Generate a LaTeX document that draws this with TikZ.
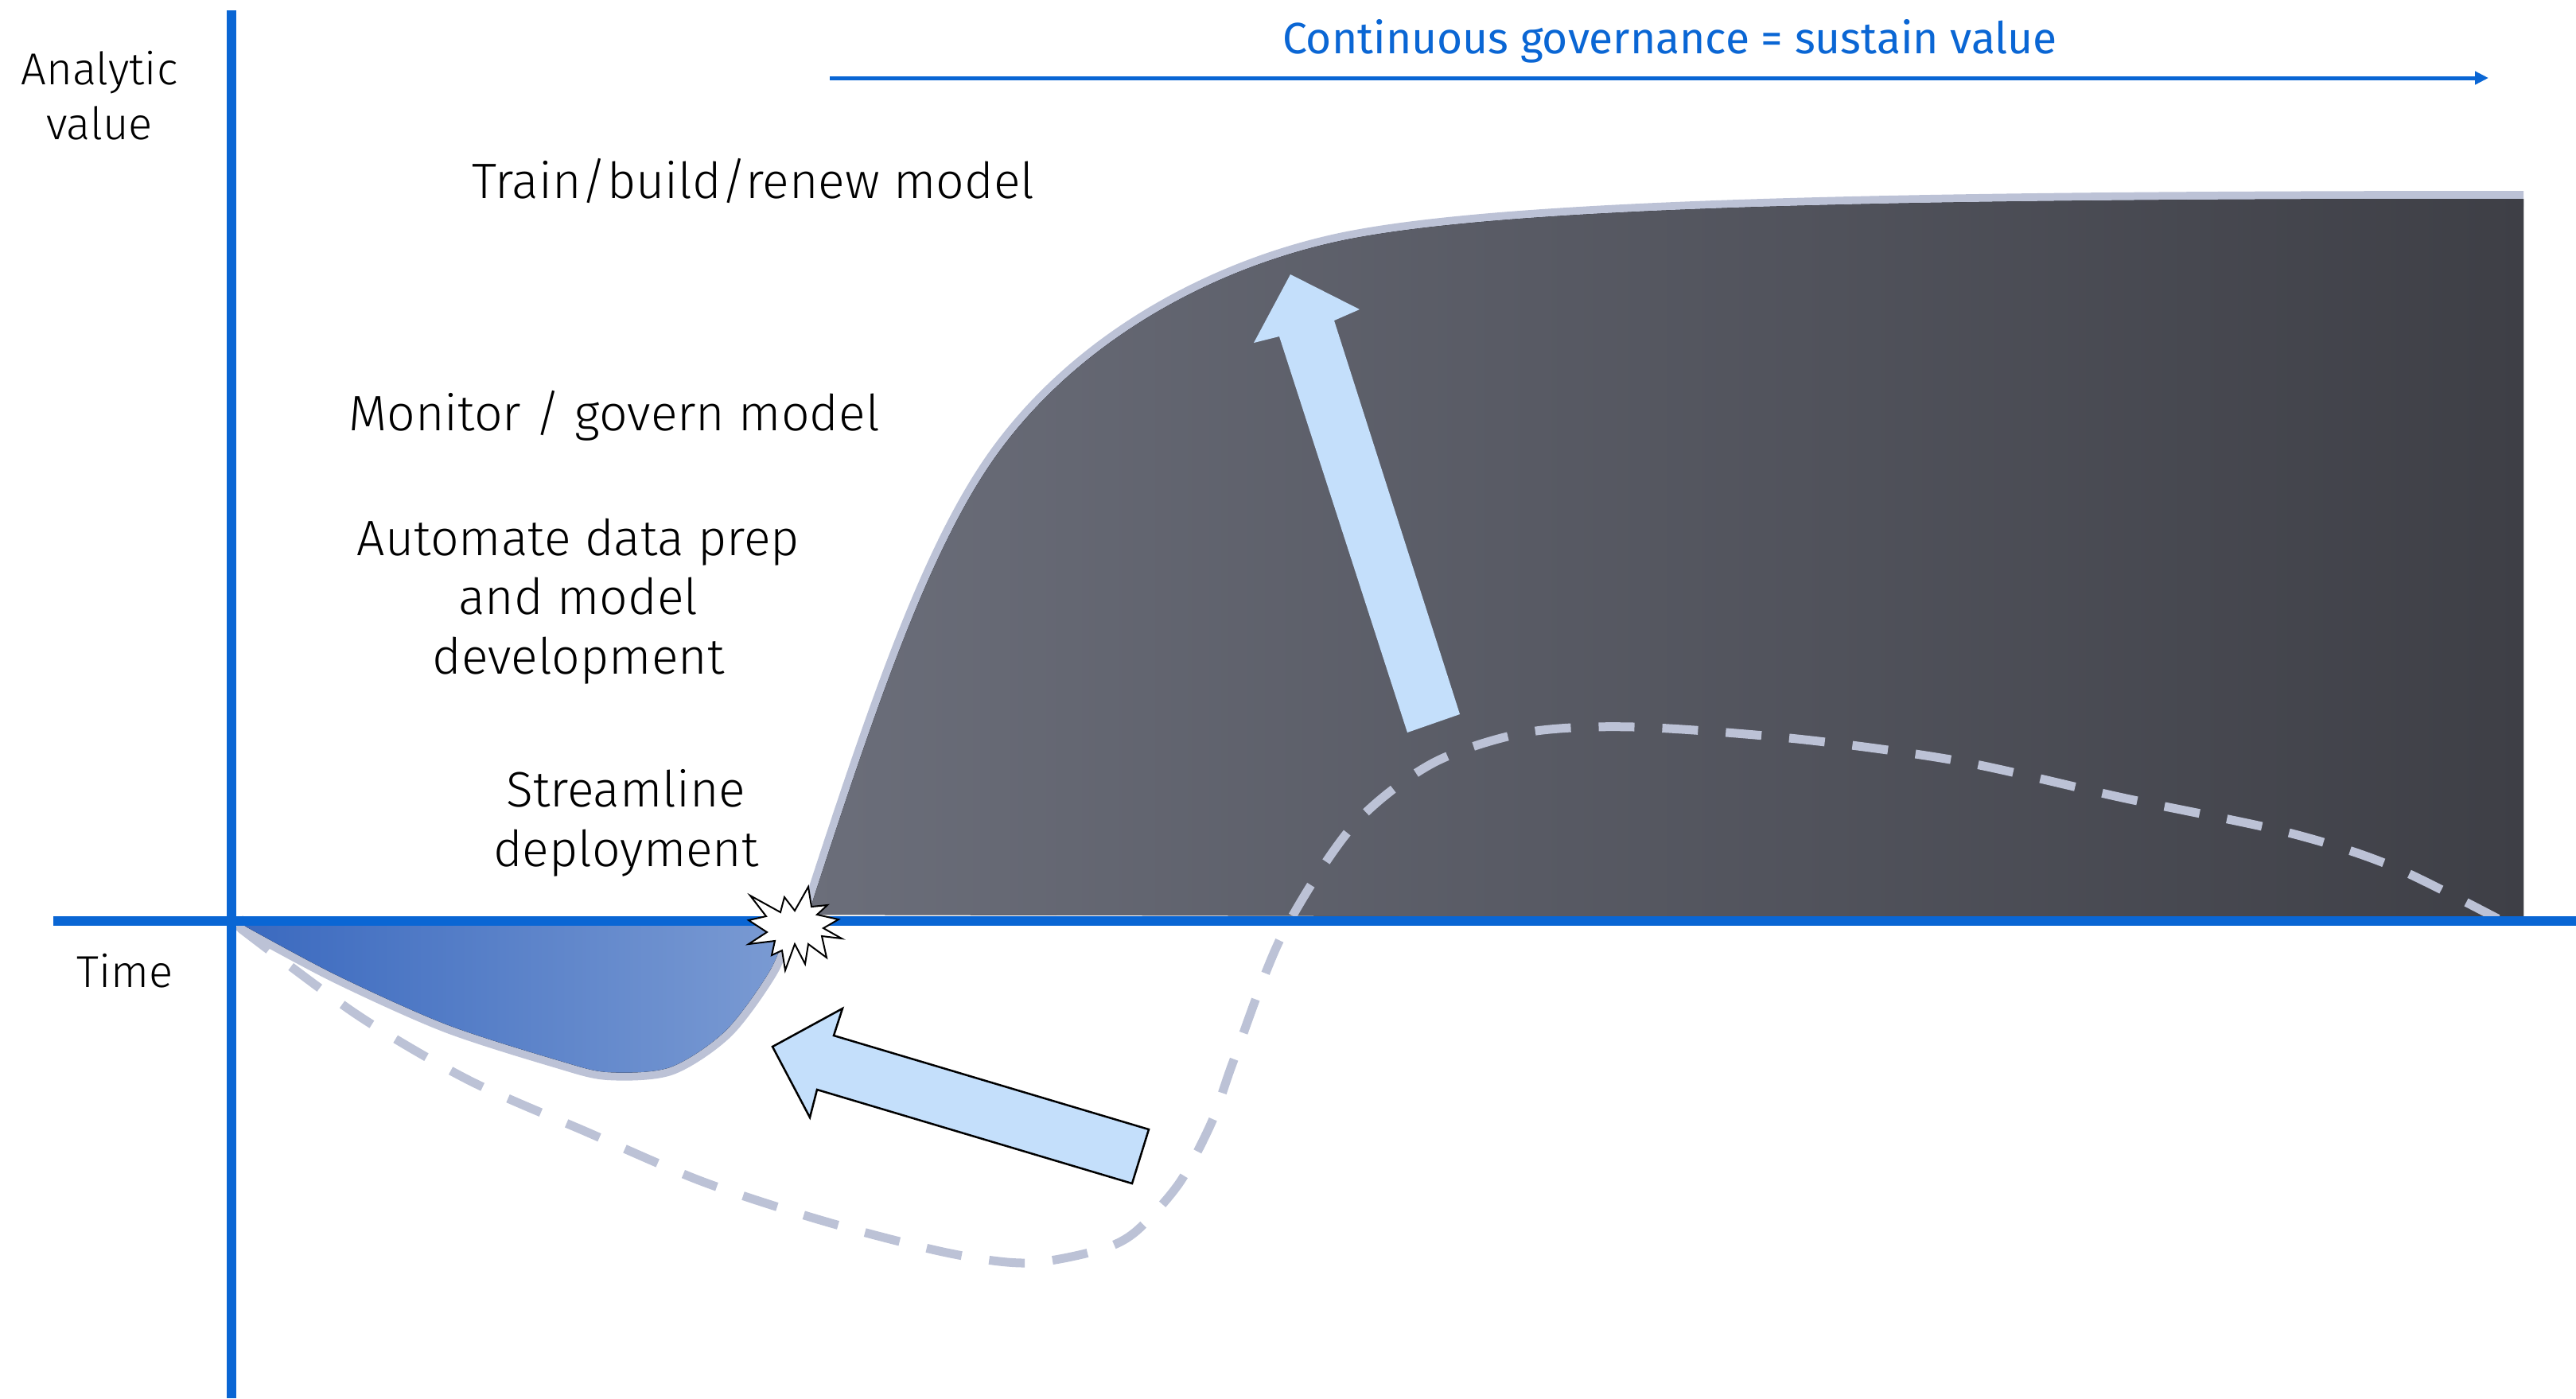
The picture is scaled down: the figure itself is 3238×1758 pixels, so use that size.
\documentclass[tikz,border=0pt]{standalone}
\usepackage{fontspec}
\setmainfont{Fira Sans Light}
\newfontfamily\titlefont{Fira Sans}
\usetikzlibrary{arrows.meta}
\definecolor{axisblue}{HTML}{0A66D4}
\definecolor{haze}{HTML}{BCC2D6}
\definecolor{slateL}{HTML}{6B6E7A}
\definecolor{slateR}{HTML}{3E3F46}
\definecolor{dipL}{HTML}{3A69BF}
\definecolor{dipR}{HTML}{7B9BD3}
\definecolor{paleblue}{HTML}{C4DFFB}

\begin{document}
\begin{tikzpicture}[x=0.1mm,y=-0.1mm,
    axis/.style={axisblue, line width=1.2mm},
    rim/.style={haze, line width=2mm},
    label/.style={font=\fontsize{17.8}{21.2}\selectfont, align=center, inner sep=0pt},
    small/.style={font=\fontsize{16}{19.5}\selectfont, align=center, inner sep=0pt},
    blockarrow/.style={fill=paleblue}]
    \useasboundingbox (0,0) rectangle (3238,1758);
    % dip below the time axis
    \draw[rim] plot[smooth] coordinates {(300,1160) (421,1225) (561,1288) (701,1333) (764,1348) (842,1342) (912,1296) (968,1220) (992,1160)};
    \fill[left color=dipL, right color=dipR] plot[smooth] coordinates {(300,1160) (421,1225) (561,1288) (701,1333) (764,1348) (842,1342) (912,1296) (968,1220) (992,1160)} -- cycle;
    % value curve
    \draw[rim] (1016,1150) .. controls (1105,875) and (1172,681) .. (1258,565) .. controls (1361,426) and (1526,336) .. (1689,302) .. controls (1900,259) and (2400,250) .. (3172,250);
    \fill[left color=slateL, right color=slateR] (1016,1150) .. controls (1105,875) and (1172,681) .. (1258,565) .. controls (1361,426) and (1526,336) .. (1689,302) .. controls (1900,259) and (2400,250) .. (3172,250) -- (3172,1155) -- cycle;
    % old path without governance
    \draw[haze, line width=1.1mm, dash pattern=on 4.5mm off 3.5mm] plot[smooth] coordinates {(302,1167) (449,1276) (589,1358) (737,1423) (884,1486) (1038,1536) (1190,1575) (1290,1588) (1380,1572) (1427,1549) (1482,1488) (1523,1411) (1550,1335) (1611,1177) (1700,1039) (1800,960) (1918,921) (2054,914) (2259,929) (2463,957) (2668,1003) (2873,1046) (3009,1090) (3166,1169)};
    \fill[blockarrow] (1622,345) -- (1576,431) -- (1608,423) -- (1769,921) -- (1835,898) -- (1677,403) -- (1709,389) -- cycle;
    % axes
    \draw[axis] (291,13) -- (291,1758);
    \draw[axis] (67,1158) -- (3238,1158);
    % spark where the curve leaves the axis
    \filldraw[fill=white, draw=black, line width=0.2mm] (1016,1115) -- (1020,1140) -- (1040,1138) -- (1027,1150) -- (1054,1156) -- (1035,1167) -- (1058,1180) -- (1033,1177) -- (1039,1204) -- (1016,1187) -- (1012,1212) -- (999,1187) -- (987,1220) -- (983,1195) -- (970,1201) -- (974,1183) -- (941,1187) -- (964,1172) -- (941,1157) -- (963,1152) -- (943,1126) -- (981,1147) -- (986,1128) -- (999,1145) -- cycle;
    \filldraw[blockarrow, draw=black, line width=0.25mm] (971,1316) -- (1059,1268) -- (1048,1302) -- (1444,1420) -- (1423,1488) -- (1027,1370) -- (1018,1405) -- cycle;
    % governance
    \coordinate (govstart) at (1043,98);
    \coordinate (govend) at (3128,98);
    \draw[axisblue, line width=0.5mm, -{Triangle[length=1.7mm,width=1.6mm]}] (govstart) -- (govend);
    \node[font=\titlefont\fontsize{15.7}{19}\selectfont, text=axisblue, anchor=base, inner sep=0pt] (governance) at (2099,67) {Continuous governance = sustain value};
    \node[small] (valuelabel) at (125,120) {Analytic\\value};
    \node[small, anchor=base] (timelabel) at (157,1241) {Time};
    \node[label, anchor=base] (train) at (947,249) {Train/build/renew model};
    \node[label, anchor=base] (monitor) at (772,541) {Monitor / govern model};
    \node[label] (automate) at (727,756) {Automate data prep\\and model\\development};
    \node[label] (streamline) at (787,1035) {Streamline\\deployment};
\end{tikzpicture}
\end{document}
